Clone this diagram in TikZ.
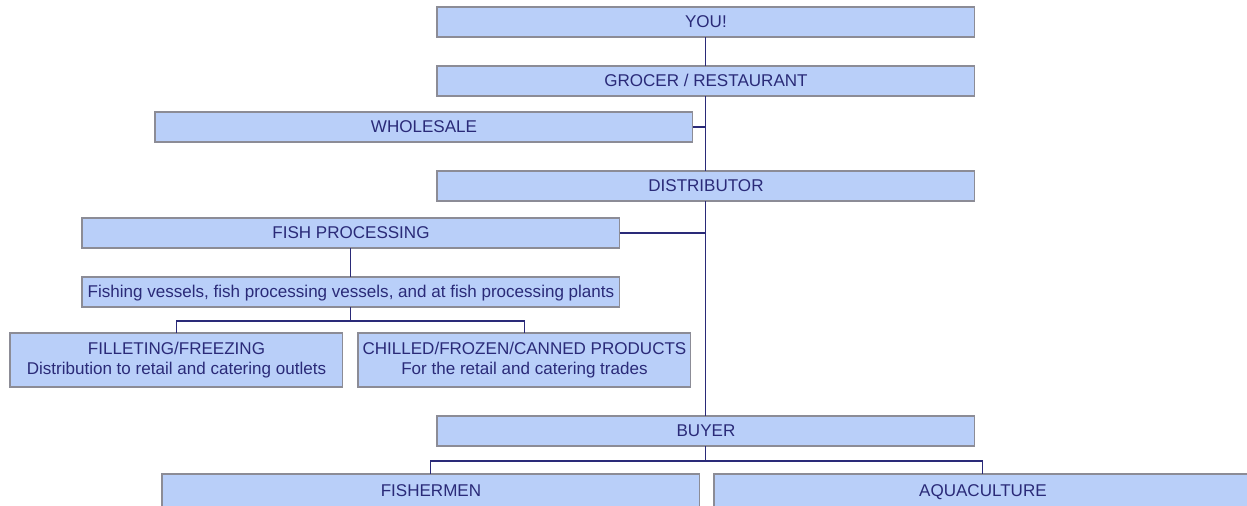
\documentclass[tikz,border=0pt]{standalone}
\usepackage{fontspec}
\setmainfont{Liberation Sans}
\usetikzlibrary{positioning}
\definecolor{boxfill}{RGB}{185,207,249}
\definecolor{boxline}{RGB}{140,140,150}
\definecolor{navy}{RGB}{42,42,120}
\tikzset{
box/.style={rectangle, draw=boxline, fill=boxfill, line width=0.6pt,
  text=navy, font=\fontsize{9.7pt}{11.3pt}\selectfont, align=center,
  anchor=north west, inner sep=0pt, outer sep=0pt},
link/.style={draw=navy, line width=0.6pt},
}

\begin{document}
\begin{tikzpicture}
        [x=0.02cm, y=-0.02cm,
        wide/.style={box, minimum width=10.76cm, minimum height=0.6cm,
          text height=1.6ex, text depth=0.4ex},
        pair/.style={box, minimum width=6.66cm, minimum height=1.08cm},
        cut/.style={wide, minimum height=0.66cm}
        ]
        \useasboundingbox (0,0) rectangle (1247,505);

        \node [wide] (you) at (437,7) {YOU!};
        \node [wide] (grocer) at (437,66) {GROCER / RESTAURANT};
        \node [wide] (wholesale) at (155,112) {WHOLESALE};
        \node [wide] (distributor) at (437,171) {DISTRIBUTOR};
        \node [wide] (processing) at (82,218) {FISH PROCESSING};
        \node [wide] (vessels) at (82,277)
        {Fishing vessels, fish processing vessels, and at fish processing plants};
        \node [pair] (fillet) at (10,333)
        {FILLETING/FREEZING\\Distribution to retail and catering outlets};
        \node [pair] (chilled) at (358,333)
        {CHILLED/FROZEN/CANNED PRODUCTS\\For the retail and catering trades};
        \node [wide] (buyer) at (437,416) {BUYER};
        \node [cut] (fishermen) at (162,474) {FISHERMEN};
        \node [cut] (aqua) at (714,474) {AQUACULTURE};

        \draw[link] (you) -- (grocer);
        \draw[link] (grocer) -- (distributor);
        \draw[link] (distributor) -- (buyer);
        \draw[link] (wholesale.east) -- (wholesale.east -| grocer.south);
        \draw[link] (processing.east) -- (processing.east -| distributor.south);
        \draw[link] (processing) -- (vessels);
        \draw[link] (vessels.south) -- ++(0,14) -| (fillet.north);
        \draw[link] (vessels.south) -- ++(0,14) -| (chilled.north);
        \draw[link] (buyer.south) -- ++(0,15) -| (fishermen.north);
        \draw[link] (buyer.south) -- ++(0,15) -| (aqua.north);
\end{tikzpicture}
\end{document}
